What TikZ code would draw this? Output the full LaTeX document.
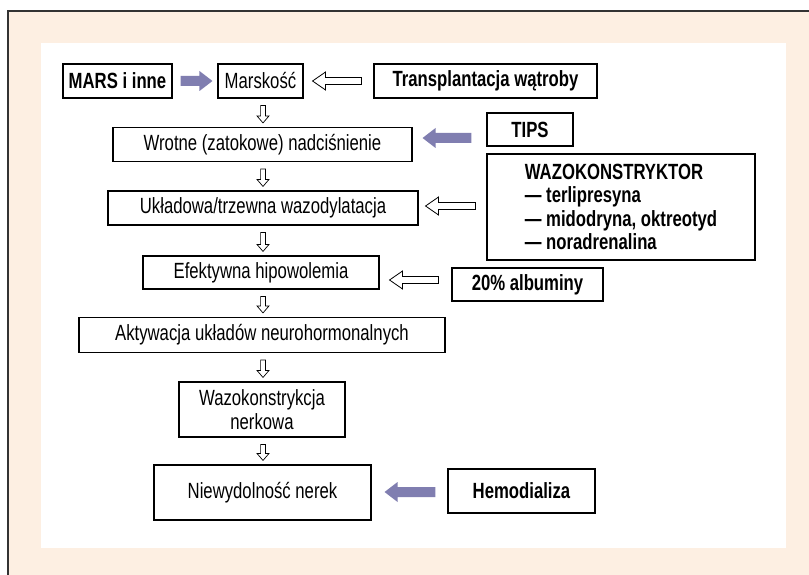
\documentclass[tikz,border=0pt]{standalone}
\usepackage{fontspec}
\setmainfont{Liberation Sans}[FakeStretch=0.76]
\usetikzlibrary{calc}

\definecolor{beige}{RGB}{253,239,226}
\definecolor{lilac}{RGB}{128,126,176}

\tikzset{
  box/.style={draw=black, line width=1.1pt, fill=white, inner sep=0pt,
    align=center, font=\fontsize{22}{23.3}\selectfont},
  boldbox/.style={box, font=\fontsize{22}{23.3}\selectfont\bfseries},
  % block arrow drawn as a polygon between two points
  blkw/.store in=\blkw, blkh/.store in=\blkh, blkl/.store in=\blkl,
  blk/.style={to path={
    let \p1=(\tikztostart), \p2=(\tikztotarget),
        \n1={veclen(\x2-\x1,\y2-\y1)},
        \n2={(\x2-\x1)/\n1}, \n3={(\y2-\y1)/\n1}
    in ({\x1-(\n3)*\blkw},{\y1+(\n2)*\blkw})
    -- ({\x2-(\n2)*\blkl-(\n3)*\blkw},{\y2-(\n3)*\blkl+(\n2)*\blkw})
    -- ({\x2-(\n2)*\blkl-(\n3)*\blkh},{\y2-(\n3)*\blkl+(\n2)*\blkh})
    -- (\p2)
    -- ({\x2-(\n2)*\blkl+(\n3)*\blkh},{\y2-(\n3)*\blkl-(\n2)*\blkh})
    -- ({\x2-(\n2)*\blkl+(\n3)*\blkw},{\y2-(\n3)*\blkl-(\n2)*\blkw})
    -- ({\x1+(\n3)*\blkw},{\y1-(\n2)*\blkw}) -- cycle}},
  hollow/.style={blk, draw=black, line width=0.8pt, fill=white,
    blkw=3.5pt, blkh=9pt, blkl=13pt},
  down/.style={hollow, line width=0.7pt, blkw=2.4pt, blkh=6pt, blkl=7pt},
  fullarrow/.style={blk, fill=lilac, draw=none, blkw=5pt, blkh=10pt, blkl=13pt},
}

\begin{document}
\begin{tikzpicture}[x=1pt, y=-1pt]
    \useasboundingbox (0,0) rectangle (809,575);
    % background panels
    \fill[beige] (8,11) rectangle (809,575);
    \fill[white] (41,43) rectangle (786,548);
    \draw[line width=1.2pt, black!80] (8,575) -- (8,11) -- (809,11);

    % main chain
    \node[boldbox, minimum width=109pt, minimum height=34pt] (mars) at (117.5,81) {MARS i inne};
    \node[box, minimum width=85pt, minimum height=34pt] (marsk) at (260.5,81) {Marskość};
    \node[boldbox, minimum width=223pt, minimum height=34pt] (transp) at (485.5,81) {Transplantacja wątroby};
    \node[box, minimum width=299pt, minimum height=34pt] (wrotne) at (262.5,144.5) {Wrotne (zatokowe) nadciśnienie};
    \node[boldbox, minimum width=86pt, minimum height=33pt] (tips) at (530,129.5) {TIPS};
    \node[boldbox, align=left, minimum width=268pt, minimum height=106pt] (wazo) at (621,207)
        {WAZOKONSTRYKTOR\\— terlipresyna\\— midodryna, oktreotyd\\— noradrenalina};
    \node[box, minimum width=310pt, minimum height=34pt] (ukl) at (263,208) {Układowa/trzewna wazodylatacja};
    \node[box, minimum width=236pt, minimum height=33pt] (efek) at (261,272.5) {Efektywna hipowolemia};
    \node[boldbox, minimum width=151pt, minimum height=33pt] (alb) at (527.5,284.5) {20\% albuminy};
    \node[box, minimum width=366pt, minimum height=35pt] (akt) at (262,335) {Aktywacja układów neurohormonalnych};
    \node[box, minimum width=166pt, minimum height=55pt] (wazk) at (262,409.5) {Wazokonstrykcja\\nerkowa};
    \node[box, minimum width=217pt, minimum height=55pt] (niew) at (262.5,492.5) {Niewydolność nerek};
    \node[boldbox, minimum width=147pt, minimum height=44pt] (hemo) at (521.5,491) {Hemodializa};

    % arrows down the chain
    \foreach \a/\b in {marsk/wrotne, wrotne/ukl, ukl/efek, efek/akt, akt/wazk, wazk/niew}
        \draw[down] ($(akt.center |- \a.south)+(1,7)$) to ($(akt.center |- \b.north)+(1,-4)$);

    % side arrows
    \draw[fullarrow] ($(mars.east)+(8,0)$) to ($(marsk.west)+(-5,0)$);
    \draw[hollow] ($(transp.west)+(-12,0)$) to ($(marsk.east)+(9,0)$);
    \draw[fullarrow] ($(tips.west)+(-15,8.5)$) to ($(wrotne.east)+(10,-6.5)$);
    \draw[hollow] ($(wazo.west)+(-11,-1)$) to ($(ukl.east)+(7,-2)$);
    \draw[hollow] ($(alb.west)+(-13,-4.5)$) to ($(efek.east)+(10,7.5)$);
    \draw[fullarrow] ($(hemo.west)+(-12,1)$) to ($(niew.east)+(13,-0.5)$);
\end{tikzpicture}
\end{document}
